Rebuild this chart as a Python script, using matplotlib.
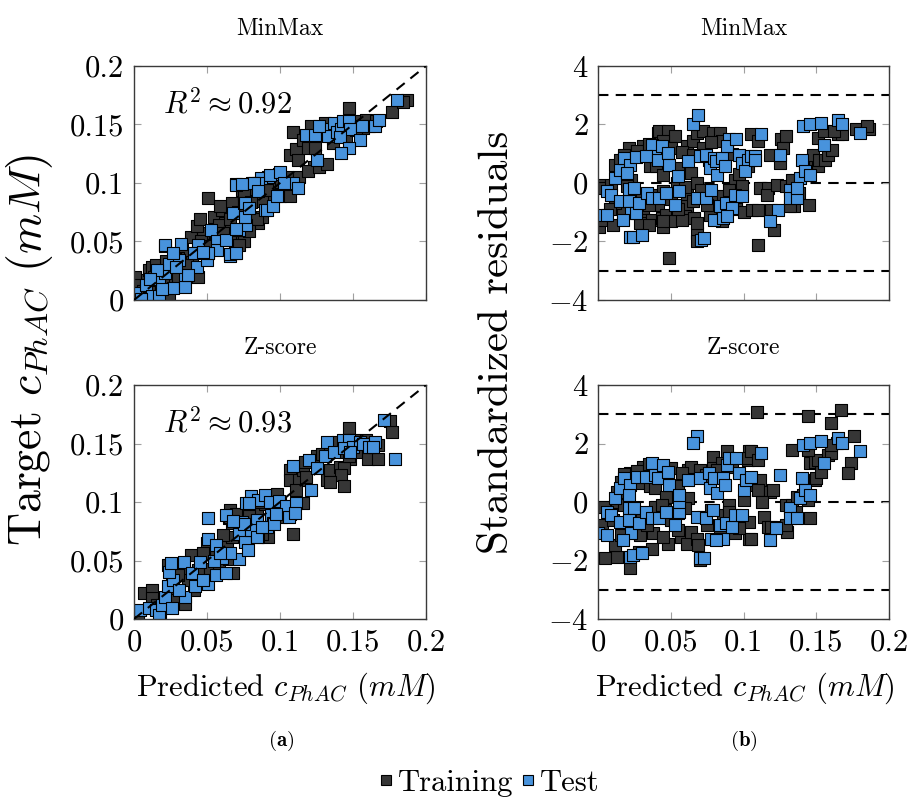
import numpy as np
import matplotlib
matplotlib.use("Agg")
import matplotlib.pyplot as plt
from matplotlib.lines import Line2D

plt.rcParams['font.family'] = 'serif'
plt.rcParams['font.serif'] = ['cmr10']
plt.rcParams['mathtext.fontset'] = 'cm'
plt.rcParams['axes.formatter.use_mathtext'] = True

# (predicted, target) pairs
minmax_fit_train = [
    (0.003, 0.017), (0.01, 0.026), (0.012, 0.028), (0.024, 0.003), (0.028, 0.026), (0.033, 0.017),
    (0.04, 0.023), (0.044, 0.02), (0.051, 0.04), (0.021, 0.046), (0.039, 0.054), (0.047, 0.057),
    (0.06, 0.06), (0.055, 0.071), (0.069, 0.04), (0.067, 0.051), (0.074, 0.05), (0.065, 0.061),
    (0.051, 0.087), (0.06, 0.077), (0.067, 0.083), (0.076, 0.08), (0.074, 0.094), (0.081, 0.09),
    (0.085, 0.066), (0.092, 0.088), (0.097, 0.097), (0.001, 0.02), (0.003, 0.013), (0.015, 0.03),
    (0.026, 0.019), (0.04, 0.034), (0.033, 0.043), (0.006, 0.008), (0.018, 0.012), (0.008, 0.004),
    (0.014, 0.02), (0.03, 0.036), (0.022, 0.033), (0.028, 0.035), (0.036, 0.03), (0.046, 0.05),
    (0.062, 0.066), (0.071, 0.075), (0.083, 0.095), (0.088, 0.085), (0.094, 0.095), (0.105, 0.105),
    (0.113, 0.105), (0.058, 0.064), (0.03, 0.02), (0.02, 0.015), (0.01, 0.012),
    (0.095, 0.1), (0.07, 0.099), (0.075, 0.091), (0.091, 0.094), (0.088, 0.071), (0.1, 0.089),
    (0.104, 0.093), (0.107, 0.089), (0.101, 0.101), (0.08, 0.084), (0.084, 0.069), (0.066, 0.069),
    (0.059, 0.08), (0.075, 0.05), (0.079, 0.059),
    (0.109, 0.144), (0.107, 0.124), (0.111, 0.129), (0.112, 0.12), (0.116, 0.137), (0.121, 0.149),
    (0.119, 0.13), (0.124, 0.13), (0.123, 0.114), (0.119, 0.11), (0.127, 0.114), (0.132, 0.116),
    (0.131, 0.151), (0.135, 0.14), (0.14, 0.149), (0.147, 0.164), (0.15, 0.149), (0.136, 0.134),
    (0.145, 0.14), (0.155, 0.153), (0.159, 0.154), (0.161, 0.149), (0.166, 0.153), (0.157, 0.147),
    (0.177, 0.161), (0.187, 0.171), (0.184, 0.169), (0.13, 0.145), (0.152, 0.145),
    (0.056, 0.051), (0.052, 0.046), (0.061, 0.057), (0.043, 0.063), (0.045, 0.069), (0.072, 0.047),
]
minmax_fit_test = [
    (0.001, 0.006), (0.008, 0.013), (0.012, 0.003), (0.017, 0.003), (0.017, 0.017), (0.021, 0.023),
    (0.024, 0.031), (0.027, 0.01), (0.019, 0.009), (0.035, 0.019), (0.043, 0.028), (0.05, 0.034),
    (0.031, 0.034), (0.021, 0.047), (0.032, 0.048), (0.044, 0.047), (0.053, 0.06), (0.057, 0.05),
    (0.057, 0.043), (0.051, 0.04), (0.066, 0.038), (0.063, 0.051), (0.072, 0.06), (0.068, 0.074),
    (0.075, 0.083), (0.07, 0.098), (0.081, 0.1), (0.09, 0.077), (0.077, 0.064), (0.076, 0.071),
    (0.092, 0.105), (0.099, 0.108), (0.005, 0.001), (0.016, 0.026), (0.035, 0.011), (0.041, 0.04),
    (0.027, 0.04), (0.037, 0.021), (0.011, 0.018), (0.029, 0.028), (0.047, 0.041),
    (0.087, 0.104), (0.093, 0.107), (0.1, 0.109), (0.085, 0.1), (0.074, 0.099), (0.082, 0.1),
    (0.076, 0.083), (0.091, 0.077), (0.095, 0.08), (0.098, 0.089), (0.109, 0.1), (0.112, 0.096),
    (0.103, 0.1), (0.085, 0.093), (0.079, 0.079), (0.07, 0.061), (0.066, 0.039), (0.07, 0.04),
    (0.118, 0.141), (0.124, 0.141), (0.125, 0.12), (0.132, 0.146), (0.137, 0.151), (0.133, 0.14),
    (0.139, 0.144), (0.142, 0.146), (0.143, 0.153), (0.147, 0.153), (0.148, 0.146), (0.141, 0.139),
    (0.155, 0.137), (0.147, 0.13), (0.142, 0.126), (0.156, 0.149), (0.165, 0.149), (0.168, 0.154),
    (0.127, 0.149), (0.18, 0.171),
]
zscore_fit_train = [
    (0.003, 0.003), (0.018, 0.001), (0.007, 0.022), (0.012, 0.025), (0.012, 0.018), (0.024, 0.025),
    (0.028, 0.016), (0.026, 0.032), (0.023, 0.046), (0.033, 0.042), (0.039, 0.055), (0.035, 0.013),
    (0.041, 0.025), (0.037, 0.033), (0.044, 0.042), (0.052, 0.043), (0.058, 0.046), (0.068, 0.039),
    (0.065, 0.051), (0.05, 0.065), (0.064, 0.062), (0.067, 0.07), (0.075, 0.079), (0.067, 0.082),
    (0.065, 0.086), (0.084, 0.093), (0.092, 0.07), (0.072, 0.09), (0.016, 0.012), (0.03, 0.038),
    (0.047, 0.056), (0.056, 0.058), (0.061, 0.072), (0.079, 0.088), (0.09, 0.098), (0.1, 0.1),
    (0.066, 0.087), (0.077, 0.079), (0.088, 0.073), (0.084, 0.084), (0.087, 0.1), (0.098, 0.107),
    (0.102, 0.094), (0.107, 0.09), (0.095, 0.096), (0.116, 0.099), (0.109, 0.073), (0.101, 0.087),
    (0.066, 0.093), (0.07, 0.09),
    (0.107, 0.127), (0.107, 0.119), (0.113, 0.119), (0.111, 0.11), (0.116, 0.127), (0.117, 0.134),
    (0.125, 0.139), (0.118, 0.121), (0.132, 0.119), (0.134, 0.127), (0.129, 0.141), (0.134, 0.144),
    (0.14, 0.151), (0.147, 0.163), (0.144, 0.143), (0.148, 0.137), (0.141, 0.13), (0.144, 0.129),
    (0.142, 0.123), (0.144, 0.114), (0.134, 0.117), (0.151, 0.153), (0.159, 0.153), (0.167, 0.149),
    (0.16, 0.137), (0.167, 0.137), (0.175, 0.169), (0.177, 0.16), (0.147, 0.139), (0.152, 0.143),
]
zscore_fit_test = [
    (0.004, 0.008), (0.01, 0.009), (0.015, 0.008), (0.017, 0.003), (0.019, 0.012), (0.021, 0.019),
    (0.026, 0.009), (0.023, 0.028), (0.027, 0.033), (0.024, 0.04), (0.025, 0.048), (0.034, 0.049),
    (0.035, 0.019), (0.031, 0.025), (0.042, 0.028), (0.04, 0.039), (0.045, 0.049), (0.051, 0.03),
    (0.047, 0.033), (0.056, 0.038), (0.06, 0.052), (0.055, 0.05), (0.063, 0.039), (0.072, 0.051),
    (0.066, 0.056), (0.051, 0.068), (0.056, 0.063), (0.059, 0.056), (0.072, 0.073), (0.076, 0.066),
    (0.078, 0.059), (0.074, 0.083), (0.063, 0.089), (0.051, 0.086), (0.077, 0.099), (0.08, 0.105),
    (0.085, 0.102), (0.084, 0.085), (0.09, 0.106), (0.094, 0.089), (0.095, 0.082), (0.085, 0.07),
    (0.08, 0.076),
    (0.075, 0.081), (0.084, 0.07), (0.091, 0.079), (0.096, 0.081), (0.079, 0.099), (0.093, 0.1),
    (0.099, 0.101), (0.104, 0.097), (0.106, 0.087), (0.097, 0.09), (0.111, 0.099), (0.11, 0.091),
    (0.088, 0.079), (0.068, 0.084),
    (0.109, 0.131), (0.12, 0.136), (0.125, 0.129), (0.121, 0.11), (0.131, 0.139), (0.132, 0.151),
    (0.137, 0.143), (0.143, 0.153), (0.147, 0.153), (0.144, 0.146), (0.15, 0.147), (0.155, 0.151),
    (0.157, 0.15), (0.161, 0.147), (0.165, 0.151), (0.164, 0.147), (0.179, 0.137), (0.171, 0.17),
    (0.148, 0.143),
]

# (predicted, standardized residual) pairs
minmax_res_train = [
    (0.001, -0.06), (0.001, -1.49), (0.003, -1.26), (0.004, -0.17), (0.009, -0.06), (0.01, -1.43),
    (0.013, 0.4), (0.012, 0.63), (0.015, 0.8), (0.022, 1.03), (0.021, 1.2), (0.025, 0.91),
    (0.023, 0.11), (0.02, -0.11), (0.024, -0.8), (0.017, -1.03), (0.029, -0.86), (0.031, -1.09),
    (0.033, -1.26), (0.029, -1.37), (0.031, 1.26), (0.033, 1.09), (0.036, 0.57), (0.04, 0.57),
    (0.042, 1.2), (0.041, 1.71), (0.042, 1.77), (0.048, 1.77), (0.053, 1.6), (0.045, 0.29),
    (0.054, 0.0), (0.055, 0.51), (0.039, -0.4), (0.045, -0.29), (0.041, -0.74), (0.037, -1.26),
    (0.044, -1.2), (0.047, -1.09), (0.054, -1.2), (0.045, -1.49), (0.049, -2.57), (0.061, -0.4),
    (0.061, -0.8), (0.06, -1.14), (0.061, 1.26), (0.065, 1.43), (0.064, 0.34), (0.068, 1.71),
    (0.072, 1.77), (0.068, 0.0), (0.066, -1.2), (0.068, -1.71), (0.068, -2.0), (0.068, -1.37),
    (0.072, 1.2), (0.076, 0.8), (0.079, 1.71), (0.084, 1.71), (0.089, 1.2), (0.102, 0.57),
    (0.094, 0.11), (0.071, -0.23), (0.079, -0.57), (0.086, -0.46), (0.095, -0.57), (0.099, -0.11),
    (0.088, -1.09), (0.081, -0.97), (0.077, -1.09), (0.05, -1.3), (0.058, -1.25), (0.035, -1.45),
    (0.018, 0.95), (0.027, 1.1), (0.035, 1.35), (0.045, 1.45), (0.05, 1.2), (0.058, 1.05),
    (0.065, 0.95), (0.085, 1.45), (0.092, 1.0), (0.097, 0.3), (0.03, -0.45), (0.05, -0.55),
    (0.06, -0.15), (0.075, -0.75), (0.09, -0.25), (0.055, -0.9), (0.065, -0.6), (0.085, -1.3),
    (0.095, -0.9), (0.1, -1.0), (0.012, -0.7), (0.008, -0.9), (0.035, -0.75), (0.045, -1.3),
    (0.078, 1.4),
    (0.105, 1.66), (0.11, 1.43), (0.103, 0.57), (0.105, 0.8), (0.111, -0.17), (0.117, -0.17),
    (0.116, -0.4), (0.106, -0.91), (0.11, -0.91), (0.119, -0.91), (0.123, -0.06), (0.118, 0.97),
    (0.125, 0.69), (0.126, 1.49), (0.129, 1.6), (0.127, 1.2), (0.121, -1.6), (0.11, -2.11),
    (0.129, -0.11), (0.135, -0.8), (0.132, -0.8), (0.138, -0.34), (0.145, -0.74), (0.142, 0.51),
    (0.144, 0.29), (0.149, 0.69), (0.151, 0.57), (0.148, 0.97), (0.152, 0.8), (0.156, 0.8),
    (0.158, 0.97), (0.161, 1.14), (0.151, 1.54), (0.155, 1.77), (0.165, 1.66), (0.168, 1.66),
    (0.162, 1.77), (0.177, 1.83), (0.186, 1.83), (0.185, 1.94), (0.136, 0.11), (0.133, 0.11),
]
minmax_res_test = [
    (0.0, -1.09), (0.006, -1.09), (0.006, -0.29), (0.009, -0.4), (0.012, 0.17), (0.015, 0.46),
    (0.018, 0.86), (0.022, 0.63), (0.026, 0.89), (0.02, 0.34), (0.015, -0.63), (0.021, -0.63),
    (0.021, -0.21), (0.025, -0.17), (0.023, -1.03), (0.017, -1.26), (0.026, -1.03), (0.028, -0.69),
    (0.022, -1.83), (0.024, -1.83), (0.03, -1.77), (0.037, 1.31), (0.039, 0.91), (0.033, 0.91),
    (0.041, 0.8), (0.044, 1.26), (0.048, 1.03), (0.049, 0.63), (0.055, 0.23), (0.034, -0.34),
    (0.037, -0.51), (0.042, -0.51), (0.047, -0.34), (0.053, -0.74), (0.056, -0.29), (0.062, 0.74),
    (0.065, 2.0), (0.069, 2.31), (0.068, -0.51), (0.071, -1.94), (0.073, -1.89), (0.07, 0.91),
    (0.074, 0.97), (0.077, 0.51), (0.08, 0.86), (0.081, 0.74), (0.082, 0.29), (0.085, 0.86),
    (0.087, 0.57), (0.09, 1.49), (0.089, 1.26), (0.095, 1.49), (0.097, 0.97), (0.099, 0.69),
    (0.103, 0.8), (0.105, 0.91), (0.101, 0.4), (0.074, -0.51), (0.078, -0.23), (0.084, -0.8),
    (0.088, -0.69), (0.092, -0.86), (0.094, -0.4), (0.099, -0.46), (0.08, -1.26), (0.086, -1.2),
    (0.089, -1.14),
    (0.112, 1.66), (0.108, 0.91), (0.108, 0.8), (0.124, -0.91), (0.125, 0.97), (0.118, -1.31),
    (0.132, -0.23), (0.132, -0.51), (0.137, -0.51), (0.139, 0.17), (0.14, 0.8), (0.142, 0.4),
    (0.146, 0.29), (0.155, 1.31), (0.141, 1.94), (0.146, 2.0), (0.153, 2.06), (0.165, 2.17),
    (0.168, 2.0), (0.18, 1.71), (0.137, -0.17),
]
zscore_res_train = [
    (0.003, -0.79), (0.005, -1.93), (0.013, -1.87), (0.012, -1.47), (0.004, -0.16), (0.013, 0.01),
    (0.013, 0.35), (0.016, 0.7), (0.022, 0.98), (0.018, -0.1), (0.024, -0.85), (0.016, -1.13),
    (0.029, -1.13), (0.022, -2.27), (0.028, -1.7), (0.037, -1.59), (0.038, -1.07), (0.029, 0.64),
    (0.031, 1.21), (0.036, 0.53), (0.039, 0.47), (0.042, 1.21), (0.047, 0.18), (0.039, -0.16),
    (0.046, -0.27), (0.044, -0.1), (0.048, -1.42), (0.055, -0.39), (0.055, 0.53), (0.057, -1.19),
    (0.061, -1.42), (0.062, 1.1), (0.064, 1.21), (0.062, 0.13), (0.064, -1.02), (0.068, -1.25),
    (0.069, -1.47), (0.072, -0.5), (0.07, 1.1), (0.074, 0.93), (0.079, 1.55), (0.079, 1.15),
    (0.077, 0.64), (0.085, 1.33), (0.089, 1.73), (0.092, 1.21), (0.103, 1.44), (0.104, 1.73),
    (0.1, 0.07), (0.102, 0.58), (0.07, -1.99), (0.078, -0.27), (0.084, -1.07), (0.094, -1.07),
    (0.095, -0.62), (0.104, -0.67), (0.104, -1.25), (0.086, -0.45), (0.09, -0.1),
    (0.018, 0.95), (0.027, 1.05), (0.035, 1.3), (0.05, 1.15), (0.058, 1.0), (0.03, -0.45),
    (0.05, -0.6), (0.06, -0.2), (0.075, -0.8), (0.09, -0.35), (0.055, -0.95), (0.097, -0.9),
    (0.01, -0.6), (0.034, -0.8), (0.045, -1.2), (0.082, 1.1),
    (0.109, 3.07), (0.103, 1.5), (0.105, 1.73), (0.11, 1.44), (0.111, 0.75), (0.11, 0.41),
    (0.105, -1.25), (0.114, -0.5), (0.117, -0.85), (0.118, 0.35), (0.12, 0.41), (0.113, 0.01),
    (0.119, -0.85), (0.125, -0.85), (0.13, -1.02), (0.129, -0.79), (0.133, 1.78), (0.129, -0.1),
    (0.133, -0.1), (0.136, -0.33), (0.146, -0.56), (0.137, 0.18), (0.141, 0.24), (0.144, 0.07),
    (0.149, 0.75), (0.15, 0.81), (0.146, 1.33), (0.149, 1.38), (0.153, 1.04), (0.151, 1.44),
    (0.158, 1.61), (0.16, 1.67), (0.144, 1.78), (0.16, 2.7), (0.144, 2.93), (0.164, 2.01),
    (0.167, 3.15), (0.176, 2.24), (0.174, 1.33), (0.172, 0.98), (0.16, 1.95),
]
zscore_res_test = [
    (0.0, -1.07), (0.006, -1.13), (0.006, -0.33), (0.009, -0.45), (0.012, 0.13), (0.015, 0.47),
    (0.018, 0.81), (0.022, 0.58), (0.021, 0.24), (0.021, -0.22), (0.025, -0.22), (0.015, -0.67),
    (0.021, -0.62), (0.023, -1.07), (0.017, -1.3), (0.022, -1.87), (0.024, -1.82), (0.03, -1.76),
    (0.028, -0.73), (0.027, 0.87), (0.037, 1.33), (0.033, 0.87), (0.039, 0.93), (0.041, 0.81),
    (0.045, 1.27), (0.048, 1.04), (0.049, 0.58), (0.033, -0.33), (0.037, -0.56), (0.042, -0.56),
    (0.047, -0.33), (0.053, -0.79), (0.056, -0.33), (0.056, 0.01), (0.056, 0.24), (0.062, 0.75),
    (0.068, -0.5), (0.074, -0.56), (0.07, 0.81), (0.076, 0.98), (0.077, 0.47), (0.08, 0.81),
    (0.082, 0.3), (0.086, 0.81), (0.087, 0.58), (0.089, 1.27), (0.09, 1.5), (0.095, 1.5),
    (0.097, 0.98), (0.1, 0.41), (0.102, 0.75), (0.105, 0.87), (0.068, 2.24), (0.065, 2.01),
    (0.07, -1.93), (0.073, -1.9), (0.079, -0.27), (0.078, -1.25), (0.086, -1.25), (0.081, -1.3),
    (0.084, -0.79), (0.088, -0.73), (0.092, -0.85), (0.094, -0.45), (0.099, -0.45),
    (0.112, 1.67), (0.118, -1.3), (0.122, -0.9), (0.125, 0.93), (0.132, -0.22), (0.132, -0.56),
    (0.137, -0.56), (0.14, 0.81), (0.139, 0.13), (0.142, 0.41), (0.146, 0.24), (0.155, 1.33),
    (0.141, 1.95), (0.146, 2.01), (0.153, 2.07), (0.165, 2.18), (0.168, 2.01), (0.18, 1.73),
]

r2_values = ['0.92', '0.93']
row_titles = ['MinMax', 'Z-score']
fit_ticks = [0, 0.05, 0.1, 0.15, 0.2]
fit_ticklabels = ['0', '0.05', '0.1', '0.15', '0.2']
res_yticks = [-4, -2, 0, 2, 4]
res_limits = [-3, 0, 3]

c_train = '#363636'
c_test = '#4893dc'
tick_fs = 22
label_fs = 22
msize = 68

fig = plt.figure(figsize=(9.21, 7.97), dpi=100)
W, H = 921.0, 797.0


def box(x0, y0, x1, y1):
    return [x0 / W, 1 - y1 / H, (x1 - x0) / W, (y1 - y0) / H]


def style(ax):
    ax.tick_params(direction='in', length=5, width=0.8, color='#a0a0a0',
                   top=True, right=True, labelsize=tick_fs, pad=7)
    for s in ax.spines.values():
        s.set_color('#3a3a3a')
        s.set_linewidth(1.0)


rows = [(66, 300), (385, 619)]
fit_data = [(minmax_fit_train, minmax_fit_test), (zscore_fit_train, zscore_fit_test)]
res_data = [(minmax_res_train, minmax_res_test), (zscore_res_train, zscore_res_test)]

for i, (ytop, ybot) in enumerate(rows):
    # left: target vs predicted
    ax = fig.add_axes(box(134, ytop, 426, ybot))
    tr = np.array(fit_data[i][0])
    te = np.array(fit_data[i][1])
    ax.scatter(tr[:, 0], tr[:, 1], marker='s', s=msize, c=c_train, edgecolors='black',
               linewidths=0.8, zorder=2)
    ax.scatter(te[:, 0], te[:, 1], marker='s', s=msize, c=c_test, edgecolors='black',
               linewidths=0.8, zorder=2)
    ax.plot([0, 0.2], [0, 0.2], color='black', ls=(0, (5, 3.5)), lw=1.5, zorder=3)
    ax.set_xlim(0, 0.2)
    ax.set_ylim(0, 0.2)
    ax.set_xticks(fit_ticks)
    ax.set_yticks(fit_ticks)
    ax.set_yticklabels(fit_ticklabels)
    if i == 1:
        ax.set_xticklabels(fit_ticklabels)
    else:
        ax.set_xticklabels([])
    ax.text(0.02, 0.168, r'$R^2 \approx ' + r2_values[i] + '$', fontsize=22,
            ha='left', va='center')
    style(ax)
    ax.set_title(row_titles[i], fontsize=17, pad=22)

    # right: standardized residuals
    ax2 = fig.add_axes(box(598, ytop, 889, ybot))
    tr = np.array(res_data[i][0])
    te = np.array(res_data[i][1])
    for lim in res_limits:
        ax2.axhline(lim, color='black', ls=(0, (5, 3.5)), lw=1.5, zorder=1)
    ax2.scatter(tr[:, 0], tr[:, 1], marker='s', s=msize, c=c_train, edgecolors='black',
                linewidths=0.8, zorder=2)
    ax2.scatter(te[:, 0], te[:, 1], marker='s', s=msize, c=c_test, edgecolors='black',
                linewidths=0.8, zorder=2)
    ax2.set_xlim(0, 0.2)
    ax2.set_ylim(-4, 4)
    ax2.set_xticks(fit_ticks)
    ax2.set_yticks(res_yticks)
    if i == 1:
        ax2.set_xticklabels(fit_ticklabels)
    else:
        ax2.set_xticklabels([])
    style(ax2)
    ax2.set_title(row_titles[i], fontsize=17, pad=22)

fig.text(30 / W, 1 - 350 / H, r'Target $c_{PhAC}$ $(mM)$', rotation=90,
         ha='center', va='center', fontsize=33)
fig.text(497 / W, 1 - 342 / H, 'Standardized residuals', rotation=90,
         ha='center', va='center', fontsize=31)
fig.text(286 / W, 1 - 688 / H, r'Predicted $c_{PhAC}$ $(mM)$',
         ha='center', va='center', fontsize=label_fs)
fig.text(745 / W, 1 - 688 / H, r'Predicted $c_{PhAC}$ $(mM)$',
         ha='center', va='center', fontsize=label_fs)
fig.text(281 / W, 1 - 741 / H, r'$\mathbf{(a)}$', ha='center', va='center', fontsize=15)
fig.text(744 / W, 1 - 741 / H, r'$\mathbf{(b)}$', ha='center', va='center', fontsize=15)

handles = [Line2D([], [], ls='none', marker='s', markersize=7, markerfacecolor=c_train,
                  markeredgecolor='black', markeredgewidth=0.8, label='Training'),
           Line2D([], [], ls='none', marker='s', markersize=7, markerfacecolor=c_test,
                  markeredgecolor='black', markeredgewidth=0.8, label='Test')]
fig.legend(handles=handles, loc='center', bbox_to_anchor=(489 / W, 1 - 783 / H), ncol=2,
           frameon=False, fontsize=22, handlelength=0.5, handletextpad=0.15,
           columnspacing=0.2, borderpad=0)

fig.savefig('out.png', dpi=100)
